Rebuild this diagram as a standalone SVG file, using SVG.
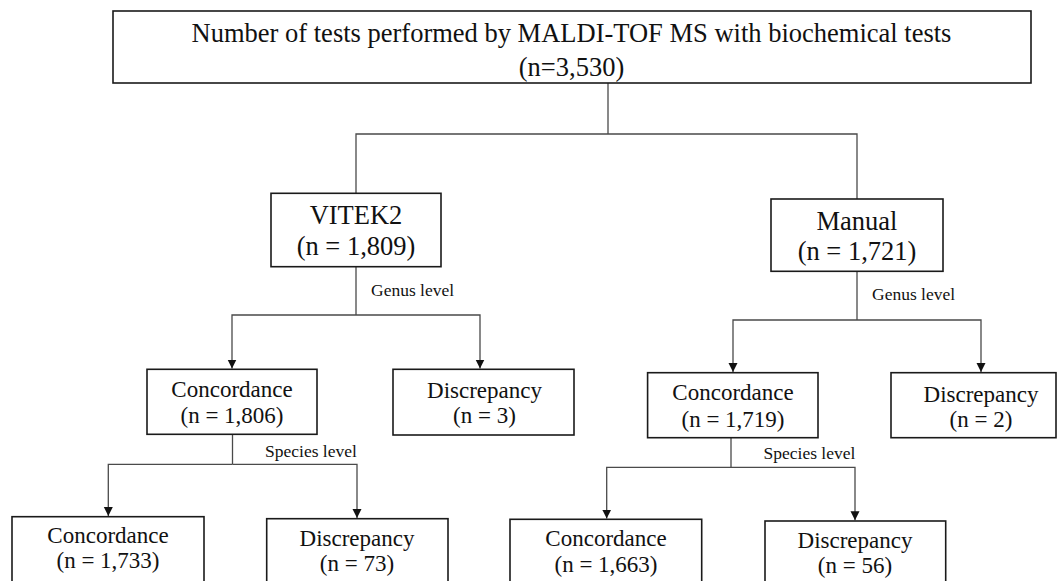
<svg xmlns="http://www.w3.org/2000/svg" width="1059" height="581" viewBox="0 0 1059 581">
<style>
.box{fill:#fff;stroke:#1a1a1a;stroke-width:1.6}
.con{fill:none;stroke:#4a4a4a;stroke-width:1.3}
text{font-family:"Liberation Serif","Times New Roman",serif;fill:#111;text-anchor:middle}
.big{font-size:26.5px}
.mid{font-size:23px}
.lvl{font-size:17.5px;text-anchor:start}
</style>
<defs>
<marker id="arr" markerUnits="userSpaceOnUse" markerWidth="10" markerHeight="10" refX="9" refY="4.5" orient="auto">
<path d="M0,0 L9,4.5 L0,9 z" fill="#111"/>
</marker>
</defs>
<rect width="1059" height="581" fill="#fff"/>
<g id="connectors">
<path class="con" d="M608,83 V134"/>
<path class="con" d="M356,193.3 V134 H857 V199"/>
<path class="con" d="M356,266.7 V315"/>
<path class="con" d="M356,315 H232 V368.5" marker-end="url(#arr)"/>
<path class="con" d="M356,315 H480 V368.5" marker-end="url(#arr)"/>
<path class="con" d="M857,271.3 V320"/>
<path class="con" d="M857,320 H733 V372" marker-end="url(#arr)"/>
<path class="con" d="M857,320 H981 V372" marker-end="url(#arr)"/>
<path class="con" d="M232.5,434.3 V464.3"/>
<path class="con" d="M232.5,464.3 H108.3 V516" marker-end="url(#arr)"/>
<path class="con" d="M232.5,464.3 H357 V518" marker-end="url(#arr)"/>
<path class="con" d="M731,437.7 V467.3"/>
<path class="con" d="M731,467.3 H606.7 V518.6" marker-end="url(#arr)"/>
<path class="con" d="M731,467.3 H855 V520.3" marker-end="url(#arr)"/>
<text class="lvl" x="371" y="296">Genus level</text>
<text class="lvl" x="872" y="300">Genus level</text>
<text class="lvl" x="265" y="457">Species level</text>
<text class="lvl" x="763.5" y="459">Species level</text>
</g>
<g id="top">
<rect class="box" x="113" y="11" width="918" height="72"/>
<text class="big" x="571.5" y="42">Number of tests performed by MALDI-TOF MS with biochemical tests</text>
<text class="big" x="571.5" y="75.5">(n=3,530)</text>
</g>
<g id="vitek2">
<rect class="box" x="271" y="193.3" width="170" height="73.4"/>
<text class="big" x="356" y="224.3">VITEK2</text>
<text class="big" x="356" y="254.5">(n = 1,809)</text>
</g>
<g id="manual">
<rect class="box" x="771" y="199" width="172" height="72.3"/>
<text class="big" x="857" y="229.5">Manual</text>
<text class="big" x="857" y="260">(n = 1,721)</text>
</g>
<g id="vitek-genus-concordance">
<rect class="box" x="147" y="369.3" width="170" height="65"/>
<text class="mid" x="232" y="396.7">Concordance</text>
<text class="mid" x="232" y="423.3">(n = 1,806)</text>
</g>
<g id="vitek-genus-discrepancy">
<rect class="box" x="393" y="369.3" width="181" height="65.7"/>
<text class="mid" x="484.5" y="397.5">Discrepancy</text>
<text class="mid" x="484.5" y="423">(n = 3)</text>
</g>
<g id="manual-genus-concordance">
<rect class="box" x="647.6" y="372.7" width="170.4" height="65"/>
<text class="mid" x="733" y="400">Concordance</text>
<text class="mid" x="733" y="426.7">(n = 1,719)</text>
</g>
<g id="manual-genus-discrepancy">
<rect class="box" x="891" y="372.7" width="165" height="65"/>
<text class="mid" x="981" y="401.7">Discrepancy</text>
<text class="mid" x="981" y="426.5">(n = 2)</text>
</g>
<g id="vitek-species-concordance">
<rect class="box" x="12" y="516.7" width="192" height="80"/>
<text class="mid" x="108" y="542.7">Concordance</text>
<text class="mid" x="108" y="568.3">(n = 1,733)</text>
</g>
<g id="vitek-species-discrepancy">
<rect class="box" x="266.7" y="518.7" width="181.3" height="80"/>
<text class="mid" x="357" y="545.5">Discrepancy</text>
<text class="mid" x="357" y="571">(n = 73)</text>
</g>
<g id="manual-species-concordance">
<rect class="box" x="510" y="519.3" width="191.7" height="80"/>
<text class="mid" x="606" y="546">Concordance</text>
<text class="mid" x="606" y="571.7">(n = 1,663)</text>
</g>
<g id="manual-species-discrepancy">
<rect class="box" x="765" y="521" width="180.7" height="80"/>
<text class="mid" x="855" y="547.5">Discrepancy</text>
<text class="mid" x="855" y="573">(n = 56)</text>
</g>
</svg>
